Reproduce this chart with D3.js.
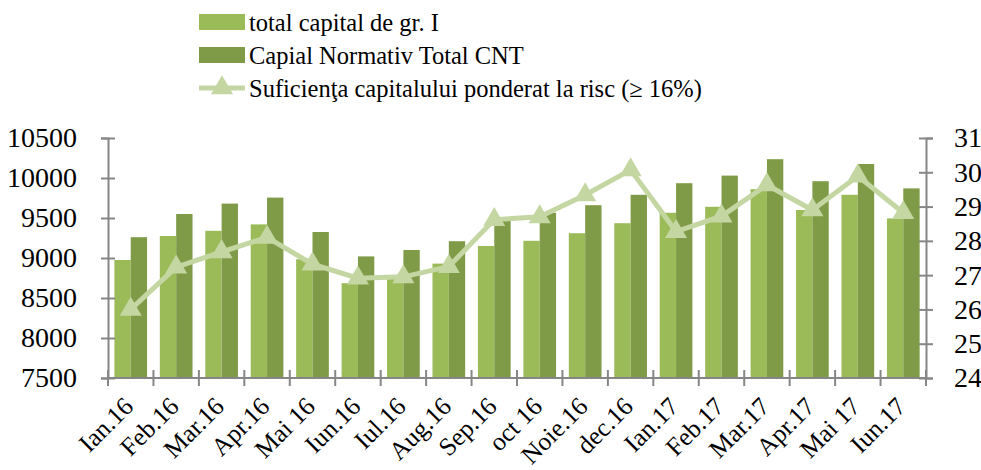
<!DOCTYPE html>
<html>
<head>
<meta charset="utf-8">
<script src="https://cdnjs.cloudflare.com/ajax/libs/d3/7.8.5/d3.min.js"></script>
<style>
  body { margin: 0; background: #fff; }
  svg text { font-family: "Liberation Serif", "DejaVu Serif", serif; fill: #000; }
</style>
</head>
<body>
<div id="chart"></div>
<script>
// data
var months = ['Ian.16', 'Feb.16', 'Mar.16', 'Apr.16', 'Mai 16', 'Iun.16', 'Iul.16', 'Aug.16', 'Sep.16',
  'oct 16', 'Noie.16', 'dec.16', 'Ian.17', 'Feb.17', 'Mar.17', 'Apr.17', 'Mai 17', 'Iun.17'];
var capitalGr1 = [8975, 9275, 9340, 9420, 8985, 8685, 8770, 8930, 9150,
  9215, 9310, 9435, 9565, 9640, 9860, 9600, 9790, 9495];
var capitalCNT = [9260, 9550, 9680, 9755, 9325, 9020, 9100, 9210, 9485,
  9565, 9660, 9790, 9935, 10030, 10235, 9960, 10175, 9870];
var sufficiency = [26.0, 27.23, 27.68, 28.1, 27.32, 26.91, 26.95, 27.25, 28.62,
  28.7, 29.34, 30.07, 28.27, 28.72, 29.63, 28.9, 29.89, 28.82];
var leftTicks = [7500, 8000, 8500, 9000, 9500, 10000, 10500];
var rightTicks = [24, 25, 26, 27, 28, 29, 30, 31];
var seriesNames = ['total capital de gr. I', 'Capial Normativ Total CNT',
  'Suficienţa capitalului ponderat la risc (≥ 16%)'];

var width = 981, height = 470;
var margin = {left: 108, right: 55, top: 138, bottom: 92};
var colLight = '#9bbb59', colDark = '#7f9b48', colLine = '#c4d6a1', axisCol = '#868686';

var svg = d3.select('#chart').append('svg')
  .attr('width', width)
  .attr('height', height);

var x = d3.scaleBand()
  .domain(months)
  .range([margin.left, width - margin.right])
  .padding(0);

var xs = d3.scaleBand()
  .domain([0, 1])
  .range([0, x.bandwidth()])
  .paddingInner(0)
  .paddingOuter(0.39);

var yL = d3.scaleLinear().domain([7500, 10500]).range([height - margin.bottom, margin.top]);
var yR = d3.scaleLinear().domain([24, 31]).range([height - margin.bottom, margin.top]);

// bars
var groups = svg.append('g').selectAll('g')
  .data(months)
  .join('g')
  .attr('transform', function(d) { return 'translate(' + x(d) + ',0)'; });

groups.append('rect')
  .attr('x', xs(0))
  .attr('width', xs.bandwidth())
  .attr('y', function(d, i) { return yL(capitalGr1[i]); })
  .attr('height', function(d, i) { return yL(7500) - yL(capitalGr1[i]); })
  .attr('fill', colLight);

groups.append('rect')
  .attr('x', xs(1))
  .attr('width', xs.bandwidth())
  .attr('y', function(d, i) { return yL(capitalCNT[i]); })
  .attr('height', function(d, i) { return yL(7500) - yL(capitalCNT[i]); })
  .attr('fill', colDark);

// axes
var leftAxis = svg.append('g')
  .attr('transform', 'translate(' + margin.left + ',0)')
  .call(d3.axisLeft(yL).tickValues(leftTicks).tickFormat(d3.format('d')).tickSize(7).tickPadding(24));

var rightAxis = svg.append('g')
  .attr('transform', 'translate(' + (width - margin.right) + ',0)')
  .call(d3.axisRight(yR).tickValues(rightTicks).tickFormat(d3.format('d')).tickSize(7).tickPadding(21));

[leftAxis, rightAxis].forEach(function(g) {
  g.select('.domain').attr('stroke', axisCol).attr('stroke-width', 2);
  g.selectAll('.tick line').attr('x1', -7).attr('x2', 7).attr('stroke', axisCol).attr('stroke-width', 2);
  g.selectAll('.tick text').attr('font-size', 28).attr('font-family', null);
});

var bottomY = height - margin.bottom;
svg.append('line')
  .attr('x1', margin.left).attr('x2', width - margin.right)
  .attr('y1', bottomY).attr('y2', bottomY)
  .attr('stroke', axisCol).attr('stroke-width', 2);

svg.append('g').selectAll('line')
  .data(months.concat(['end']))
  .join('line')
  .attr('x1', function(d, i) { return margin.left + i * x.step(); })
  .attr('x2', function(d, i) { return margin.left + i * x.step(); })
  .attr('y1', bottomY - 8).attr('y2', bottomY + 8)
  .attr('stroke', axisCol).attr('stroke-width', 2);

svg.append('g').selectAll('text')
  .data(months)
  .join('text')
  .attr('transform', function(d) {
    return 'translate(' + (x(d) + x.bandwidth() / 2 + 4) + ',' + (bottomY + 30) + ') rotate(-45)';
  })
  .attr('text-anchor', 'end')
  .attr('font-size', 25.5)
  .text(function(d) { return d; });

// line with triangle markers
var line = d3.line()
  .x(function(d, i) { return x(months[i]) + x.bandwidth() / 2; })
  .y(function(d) { return yR(d); });

svg.append('path')
  .datum(sufficiency)
  .attr('d', line)
  .attr('fill', 'none')
  .attr('stroke', colLine)
  .attr('stroke-width', 5);

var tri = d3.symbol().type(d3.symbolTriangle).size(210);
svg.append('g').selectAll('path')
  .data(sufficiency)
  .join('path')
  .attr('d', tri)
  .attr('transform', function(d, i) {
    return 'translate(' + (x(months[i]) + x.bandwidth() / 2) + ',' + yR(d) + ')';
  })
  .attr('fill', colLine);

// legend
var legend = svg.append('g').attr('transform', 'translate(199,0)');
var rowY = [22, 55, 88];
legend.append('rect').attr('x', 0).attr('y', rowY[0] - 8).attr('width', 46).attr('height', 16).attr('fill', colLight);
legend.append('rect').attr('x', 0).attr('y', rowY[1] - 8).attr('width', 46).attr('height', 16).attr('fill', colDark);
legend.append('line').attr('x1', 0).attr('x2', 46).attr('y1', rowY[2]).attr('y2', rowY[2])
  .attr('stroke', colLine).attr('stroke-width', 5);
legend.append('path').attr('d', tri).attr('transform', 'translate(23,' + rowY[2] + ')').attr('fill', colLine);

legend.selectAll('text.lbl')
  .data(seriesNames)
  .join('text')
  .attr('class', 'lbl')
  .attr('x', 50)
  .attr('y', function(d, i) { return rowY[i]; })
  .attr('dy', '0.35em')
  .attr('font-size', 24.5)
  .text(function(d) { return d; });
</script>
</body>
</html>
